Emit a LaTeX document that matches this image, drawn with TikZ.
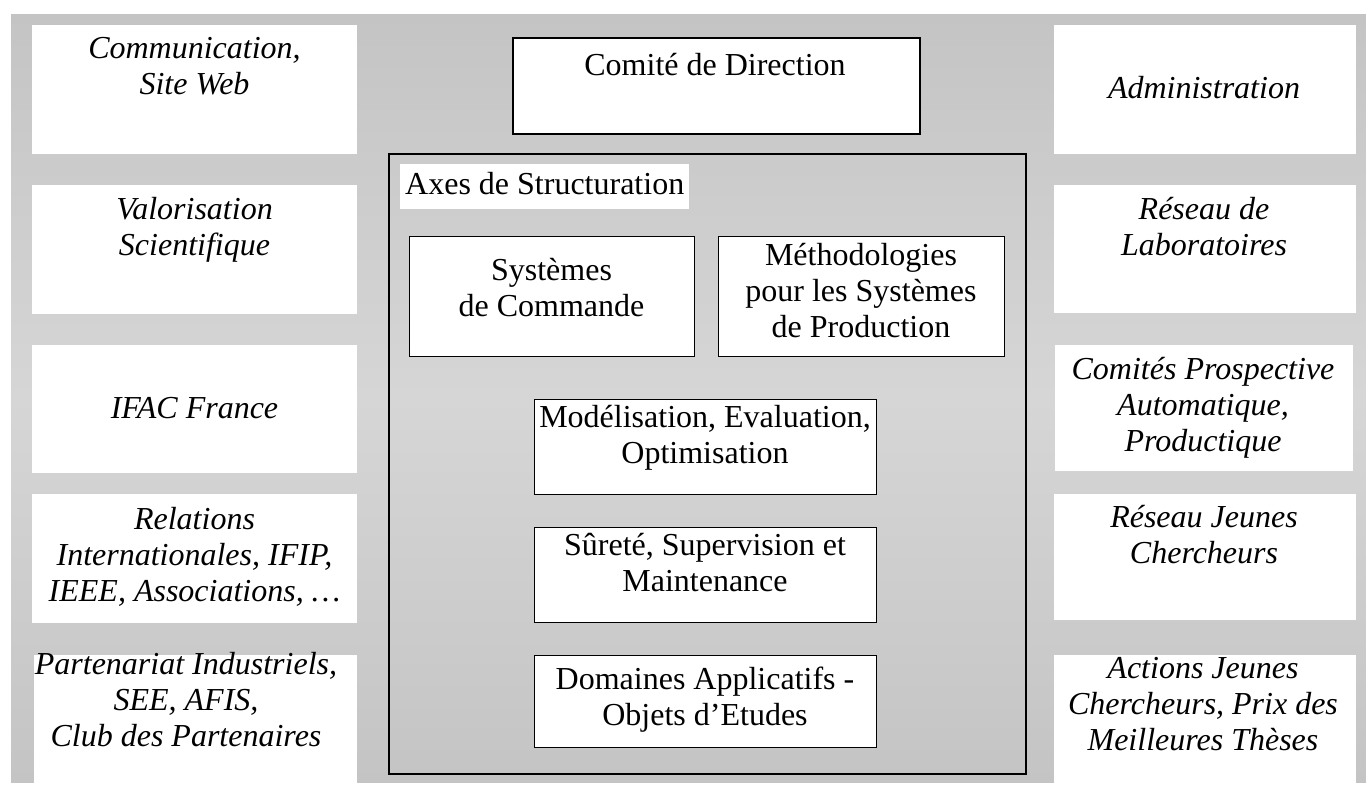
\documentclass[tikz,border=0pt]{standalone}
\usepackage{fontspec}
\setmainfont{Liberation Serif}
\usepackage{tikz}
\usetikzlibrary{positioning}
\definecolor{bgedge}{RGB}{196,196,196}
\definecolor{bgmid}{RGB}{214,214,214}

\begin{document}
\begin{tikzpicture}[x=1pt,y=-1pt,
	box/.style 2 args={inner sep=0pt,anchor=north west,minimum width=#1pt,minimum height=#2pt},
	sidebox/.style={fill=white},
	axebox/.style={draw=black,fill=white,line width=1pt},
	txt/.style={font=\fontsize{32}{36}\selectfont,align=center,inner sep=0pt,anchor=north,yshift=25.2pt,execute at begin node=\strut},
	sidetxt/.style={txt,font=\fontsize{32}{36}\selectfont\itshape}]
	\useasboundingbox (0,0) rectangle (1366,785);
	\shade[top color=bgedge,bottom color=bgedge,middle color=bgmid] (11,14) rectangle (1366,782);
	% left column
	\node[sidebox,box={325}{129}] (com) at (32,25) {};
	\node[sidebox,box={325}{129}] (valo) at (32,185) {};
	\node[sidebox,box={325}{128}] (ifac) at (32,345) {};
	\node[sidebox,box={325}{129}] (relint) at (32,494) {};
	\node[sidebox,box={323}{128}] (part) at (34,655) {};
	\node[sidetxt] (comtxt) at (194.5,62) {Communication,\\Site Web};
	\node[sidetxt] (valotxt) at (194.5,222) {Valorisation\\Scientifique};
	\node[sidetxt] (ifactxt) at (194.5,418) {IFAC France};
	\node[sidetxt] (relinttxt) at (194.5,532) {Relations\\Internationales, IFIP,\\IEEE, Associations, …};
	\node[sidetxt] (parttxt) at (186,677) {Partenariat Industriels,\\SEE, AFIS,\\Club des Partenaires};
	% right column
	\node[sidebox,box={302}{129}] (admin) at (1054,25) {};
	\node[sidebox,box={302}{128}] (reslab) at (1054,185) {};
	\node[sidebox,box={298}{126}] (prosp) at (1055,345) {};
	\node[sidebox,box={302}{126}] (resjc) at (1054,494) {};
	\node[sidebox,box={302}{128}] (actjc) at (1054,655) {};
	\node[sidetxt] (admintxt) at (1204,98) {Administration};
	\node[sidetxt] (reslabtxt) at (1204,222) {Réseau de\\Laboratoires};
	\node[sidetxt] (prosptxt) at (1203,382) {Comités Prospective\\Automatique,\\Productique};
	\node[sidetxt] (resjctxt) at (1204,530) {Réseau Jeunes\\Chercheurs};
	\node[sidetxt] (actjctxt) at (1203,682) {Actions Jeunes\\Chercheurs, Prix des\\Meilleures Thèses};
	% centre
	\node[draw=black,fill=white,line width=1.5pt,box={407}{96}] (codir) at (512,37) {};
	\node[txt] (codirtxt) at (715,75) {Comité de Direction};
	\node[draw=black,line width=1.5pt,box={637}{620}] (axes) at (388,153) {};
	\node[fill=white,inner xsep=5pt,inner ysep=0pt,text height=30pt,text depth=15pt,anchor=base west,
		font=\fontsize{32}{36}\selectfont] (axestxt) at (400,194) {Axes de Structuration};
	\node[axebox,box={285}{120}] (cmd) at (409,236) {};
	\node[axebox,box={286}{120}] (meth) at (718,236) {};
	\node[axebox,box={342}{95}] (model) at (534,399) {};
	\node[axebox,box={342}{95}] (surete) at (534,527) {};
	\node[axebox,box={342}{92}] (domaines) at (534,655) {};
	\node[txt] (cmdtxt) at (551.5,283) {Systèmes\\de Commande};
	\node[txt] (methtxt) at (861,268) {Méthodologies\\pour les Systèmes\\de Production};
	\node[txt] (modeltxt) at (705,430) {Modélisation, Evaluation,\\Optimisation};
	\node[txt] (suretetxt) at (705,558) {Sûreté, Supervision et\\Maintenance};
	\node[txt] (domainestxt) at (705,692) {Domaines Applicatifs -\\Objets d’Etudes};
\end{tikzpicture}
\end{document}
